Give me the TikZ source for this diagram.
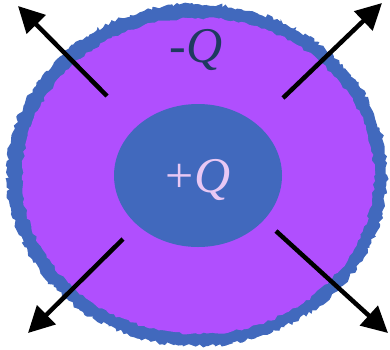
\documentclass[tikz,border=0pt]{standalone}
\usepackage{fontspec}
\setmainfont{Liberation Serif}
\usetikzlibrary{arrows.meta,decorations.pathmorphing,shapes.geometric}
\definecolor{shellblue}{HTML}{4169BD}
\definecolor{shellpurple}{HTML}{B04FFE}
\definecolor{darkq}{HTML}{1F3A60}
\definecolor{lightq}{HTML}{E8C8F4}
\tikzset{
  fieldarrow/.style={line width=4.5pt,-{Triangle[length=26pt,width=26pt]}},
  charge/.style={font=\fontsize{50}{54}\selectfont}
}
\begin{document}
\begin{tikzpicture}[x=1pt,y=-1pt]
\useasboundingbox (0,0) rectangle (390,349);
% rough blue shell
\fill[shellblue,decorate,decoration={random steps,segment length=3pt,amplitude=2pt}]
  (197,175) ellipse [x radius=190, y radius=171];
\fill[shellpurple,decorate,decoration={random steps,segment length=4pt,amplitude=1.5pt}]
  (198,176) ellipse [x radius=176, y radius=158];
% inner sphere
\node[ellipse,fill=shellblue,minimum width=168pt,minimum height=143pt,inner sep=0pt] (inner) at (198,175.5) {};
\node[charge,text=lightq] (pq) at (198,180) {+\textit{Q}};
\node[charge,text=darkq] (nq) at (196,50) {-\textit{Q}};
% arrows
\coordinate (s1) at (107,96);  \coordinate (e1) at (18,6);
\coordinate (s2) at (283,98);  \coordinate (e2) at (382,3);
\coordinate (s3) at (123,239); \coordinate (e3) at (28,333);
\coordinate (s4) at (276,231); \coordinate (e4) at (388,333);
\draw[fieldarrow] (s1) -- (e1);
\draw[fieldarrow] (s2) -- (e2);
\draw[fieldarrow] (s3) -- (e3);
\draw[fieldarrow] (s4) -- (e4);
\end{tikzpicture}
\end{document}
